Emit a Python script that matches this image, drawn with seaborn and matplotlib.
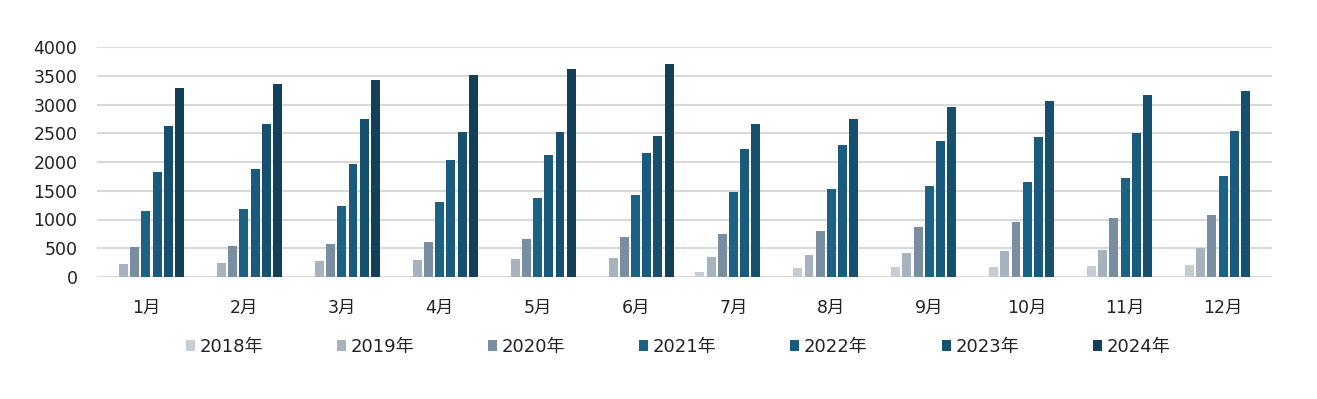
import numpy as np
import pandas as pd
import matplotlib
matplotlib.use("Agg")
import matplotlib.pyplot as plt
import seaborn as sns

months = ["1月", "2月", "3月", "4月", "5月", "6月", "7月", "8月", "9月", "10月", "11月", "12月"]
years = ["2018年", "2019年", "2020年", "2021年", "2022年", "2023年", "2024年"]
nan = np.nan
v2018 = [nan, nan, nan, nan, nan, nan, 85, 157, 174, 180, 197, 214]
v2019 = [233, 250, 278, 290, 307, 325, 348, 388, 417, 446, 475, 499]
v2020 = [522, 545, 580, 614, 655, 701, 748, 806, 875, 951, 1020, 1078]
v2021 = [1142, 1183, 1235, 1299, 1368, 1426, 1472, 1530, 1588, 1652, 1716, 1762]
v2022 = [1826, 1878, 1960, 2041, 2116, 2162, 2220, 2301, 2371, 2441, 2499, 2539]
v2023 = [2626, 2667, 2743, 2522, 2516, 2452, 2661, 2748, 2951, 3067, 3171, 3229]
v2024 = [3287, 3357, 3432, 3519, 3623, 3704, nan, nan, nan, nan, nan, nan]
colors = ["#c5ccd3", "#a6b3bf", "#7a8ea2", "#1c6285", "#1a5a7c", "#174f6e", "#133f58"]

series = [v2018, v2019, v2020, v2021, v2022, v2023, v2024]
rows = []
for y, vals in zip(years, series):
    for m, v in zip(months, vals):
        rows.append({"month": m, "year": y, "value": v})
df = pd.DataFrame(rows).dropna()

sns.set_theme(style="white")
plt.rcParams["font.family"] = ["DejaVu Sans", "Noto Sans CJK JP"]

fig = plt.figure(figsize=(13.17, 3.99), dpi=100)
ax = fig.add_axes([97 / 1317, 1 - 277 / 399, (1272 - 97) / 1317, (277 - 47) / 399])

sns.barplot(data=df, x="month", y="value", hue="year", order=months,
            hue_order=years, palette=colors, errorbar=None, width=0.8,
            gap=0.2, saturation=1, linewidth=0, ax=ax, zorder=3)

ax.set_ylim(0, 4000)
ax.set_xlim(-0.5, 11.5)
ax.set_yticks(np.arange(0, 4001, 500))
ax.yaxis.grid(True, color="#d9d9d9", linewidth=1.5, zorder=0)
ax.set_axisbelow(True)
for s in ax.spines.values():
    s.set_visible(False)
ax.set_xlabel("")
ax.set_ylabel("")
ax.tick_params(axis="y", labelsize=12.5, colors="#222222", pad=14, length=0)
ax.tick_params(axis="x", labelsize=12.5, colors="#222222", pad=16, length=0)

handles, labels = ax.get_legend_handles_labels()
ax.get_legend().remove()
fig.legend(handles, labels, loc="center", bbox_to_anchor=(678 / 1317, 1 - 347 / 399),
           ncol=7, frameon=False, fontsize=13, handlelength=0.5, handleheight=0.5,
           handletextpad=0.25, columnspacing=4.1, labelcolor="#222222")

fig.savefig("out.png", dpi=100)
